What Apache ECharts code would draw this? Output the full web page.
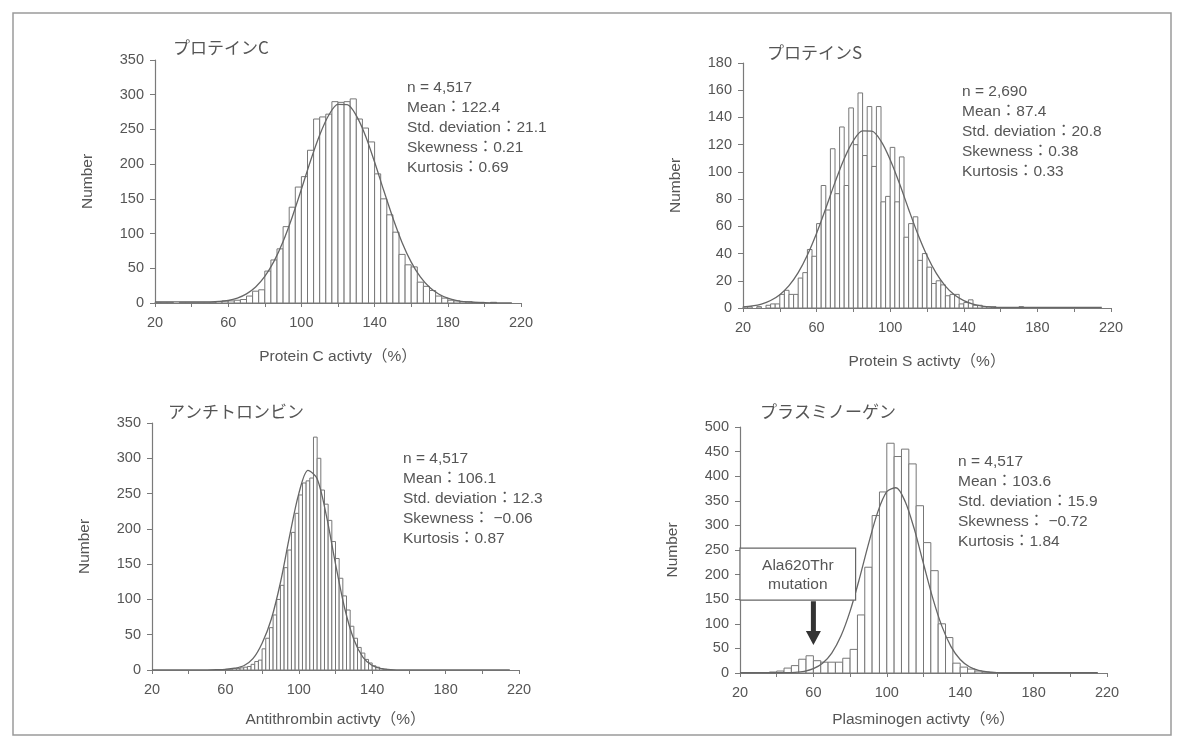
<!DOCTYPE html>
<html><head><meta charset="utf-8">
<script src="https://cdn.jsdelivr.net/npm/echarts@6/dist/echarts.min.js"></script>
<style>html,body{margin:0;padding:0;background:#fff}#c{width:1183px;height:756px}</style>
</head><body><div id="c"></div>
<script>
// ---------- data ----------
const xTickLabels = [20, 60, 100, 140, 180, 220];
const titles = ['プロテインC', 'プロテインS', 'アンチトロンビン', 'プラスミノーゲン'];
const xNames = ['Protein C activty（%）', 'Protein S activty（%）', 'Antithrombin activty（%）', 'Plasminogen activty（%）'];
const yMax = [350, 180, 350, 500];
const yStep = [50, 20, 50, 50];

// Protein C histogram
const pcBinStart = 20, pcBinWidth = 10 / 3;
const pcCounts = [1,1,1,0,1,1,1,1,1,1, 2,3,3,4,5,10,17,19,46,62, 78,110,138,167,182,220,265,268,272,290,
  289,290,294,265,252,232,186,150,127,102, 70,55,52,30,24,18,10,7,4,3, 2,2,1,1,0,1,0,0,0,0];
// Protein S histogram
const psBinStart = 20, psBinWidth = 2.5;
const psCounts = [1,1,0,1,0,2,3,3,10,13, 10,10,22,26,43,38,62,90,72,117, 84,133,90,147,120,158,112,148,104,148,
  78,82,118,78,111,52,62,67,35,40, 30,18,20,17,9,10,10,3,4,6, 2,2,1,1,1,0,0,0,0,0, 1];
// Antithrombin histogram
const atBinStart = 60, atBinWidth = 2;
const atCounts = [1,1,2,2,3,4,5,8,12,14, 30,45,60,78,100,120,145,170,195,222, 248,265,268,272,330,300,255,235,212,182,
  158,130,105,85,62,45,32,24,15,10, 6,4,2,1];
// Plasminogen histogram
const plgBinStart = 20, plgBinWidth = 4;
const plgCounts = [0,1,0,1,2,4,10,15,28,35, 25,22,22,22,30,48,118,215,320,368, 467,440,455,425,340,265,208,100,72,20,
  12,8,4,2,1];

// fitted curves (read at x = 20, 25, ... 215)
const curveX = [20,25,30,35,40,45,50,55,60,65,70,75,80,85,90,95,100,105,110,115,120,125,130,135,140,145,150,155,160,165,170,175,180,185,190,195,200,205,210,215];
const pcCurve = [1.5,1.5,1.5,1.5,1.5,1.5,1.6,2.2,3.6,7.1,13.2,23.1,38.3,59.9,88.6,123.9,163.8,205,242,270.8,
  286,285.8,269.9,241,203,162,122.5,87.3,58.9,37.5,22.6,12.9,6.9,3.5,1.7,1,0.5,0.3,0.2,0.1];
const psCurve = [0.7,1.5,2.9,5.5,9.8,16.4,26,39,55,73.3,92.3,109.7,123,130.1,130,122.6,109,91.6,72.6,54.3,
  38.4,25.6,16.1,9.5,5.4,2.8,1.4,0.7,0.5,0.4,0.4,0.4,0.4,0.4,0.4,0.4,0.4,0.4,0.4,0.4];
const atCurve = [0.3,0.3,0.3,0.3,0.3,0.3,0.3,0.5,1,2.5,6,16,38,72,124,190,250,283,271,219,
  150.5,87.5,43.2,18,6.4,1.9,0.5,0.3,0.3,0.3,0.3,0.3,0.3,0.3,0.3,0.3,0.3,0.3,0.3,0.3];
const plgCurve = [0.5,0.5,0.5,0.5,0.5,0.6,1.3,3.5,8.8,19.8,40.5,75,125.7,190.7,262,326.5,368.5,376.5,348.6,292.3,
  222,152.7,95.3,53.7,27.5,12.7,5.3,2,0.8,0.5,0.5,0.5,0.5,0.5,0.5,0.5,0.5,0.5,0.5,0.5];

const stats = [
  ['n = 4,517', 'Mean：122.4', 'Std. deviation：21.1', 'Skewness：0.21', 'Kurtosis：0.69'],
  ['n = 2,690', 'Mean：87.4', 'Std. deviation：20.8', 'Skewness：0.38', 'Kurtosis：0.33'],
  ['n = 4,517', 'Mean：106.1', 'Std. deviation：12.3', 'Skewness： −0.06', 'Kurtosis：0.87'],
  ['n = 4,517', 'Mean：103.6', 'Std. deviation：15.9', 'Skewness： −0.72', 'Kurtosis：1.84']
];
const annotationText = ['Ala620Thr', 'mutation'];
const annotationX = 60;

// ---------- layout ----------
const grids = [
  {left: 155, top: 60, width: 366, height: 243},
  {left: 743, top: 63, width: 368, height: 245},
  {left: 152, top: 423, width: 367, height: 247},
  {left: 740, top: 427, width: 367, height: 246}
];
const xNameGap = [46, 46, 42, 39];
const statPos = [[407, 88], [962, 92], [403, 459], [958, 462]];
const titlePos = [[173, 48], [767, 53], [168, 412], [760, 412]];

const INK = '#555';
const AXIS = '#7a7a7a';
const FONT = '"Liberation Sans", Arial, "Noto Sans CJK JP", sans-serif';

function binsToData(start, width, counts) {
  const out = [];
  counts.forEach((c, i) => { if (c > 0) out.push([start + i * width, start + (i + 1) * width, c]); });
  return out;
}
const histData = [
  binsToData(pcBinStart, pcBinWidth, pcCounts),
  binsToData(psBinStart, psBinWidth, psCounts),
  binsToData(atBinStart, atBinWidth, atCounts),
  binsToData(plgBinStart, plgBinWidth, plgCounts)
];
const curves = [pcCurve, psCurve, atCurve, plgCurve].map(ys => curveX.map((x, i) => [x, ys[i]]));

const option = {
  backgroundColor: '#fff',
  animation: false,
  grid: grids,
  xAxis: grids.map((g, i) => ({
    type: 'value', gridIndex: i, min: 20, max: 220, interval: 20,
    name: xNames[i], nameLocation: 'middle', nameGap: xNameGap[i],
    nameTextStyle: {color: INK, fontSize: 15.5, fontFamily: FONT},
    axisLine: {show: true, onZero: false, lineStyle: {color: AXIS, width: 1.2}},
    axisTick: {show: true, length: 4, lineStyle: {color: AXIS}},
    splitLine: {show: false},
    axisLabel: {color: INK, fontSize: 14.5, fontFamily: FONT, margin: 13,
      formatter: v => xTickLabels.indexOf(v) >= 0 ? String(v) : ''}
  })),
  yAxis: grids.map((g, i) => ({
    type: 'value', gridIndex: i, min: 0, max: yMax[i], interval: yStep[i],
    name: 'Number', nameLocation: 'middle', nameGap: 60, nameRotate: 90,
    nameTextStyle: {color: INK, fontSize: 15.5, fontFamily: FONT},
    axisLine: {show: true, lineStyle: {color: AXIS, width: 1.2}},
    axisTick: {show: true, length: 5, lineStyle: {color: AXIS}},
    splitLine: {show: false},
    axisLabel: {color: INK, fontSize: 14.5, fontFamily: FONT, margin: 11}
  })),
  series: []
};

histData.forEach((d, i) => {
  option.series.push({
    type: 'custom', xAxisIndex: i, yAxisIndex: i, data: d, encode: {x: [0, 1], y: 2},
    renderItem: function (params, api) {
      const p0 = api.coord([api.value(0), 0]);
      const p1 = api.coord([api.value(1), api.value(2)]);
      return {type: 'rect', shape: {x: p0[0], y: p1[1], width: p1[0] - p0[0], height: p0[1] - p1[1]},
        style: {fill: '#fff', stroke: '#777', lineWidth: 1}};
    },
    z: 2
  });
  option.series.push({
    type: 'line', xAxisIndex: i, yAxisIndex: i, data: curves[i], smooth: 0.3,
    showSymbol: false, symbol: 'none', lineStyle: {color: '#666', width: 1.3}, z: 3
  });
});

const chart = echarts.init(document.getElementById('c'), null, {renderer: 'canvas'});
chart.setOption(option);

// ---------- graphics: frame, titles, stats, annotation ----------
const g = [];
g.push({type: 'rect', shape: {x: 13, y: 13, width: 1158, height: 722}, style: {fill: 'none', stroke: '#9a9a9a', lineWidth: 1.5}, z: 0});
titles.forEach((t, i) => {
  g.push({type: 'text', x: titlePos[i][0], y: titlePos[i][1],
    style: {text: t, fill: INK, font: '17px "Noto Sans CJK JP", sans-serif', textVerticalAlign: 'middle'}, z: 10});
});
stats.forEach((lines, i) => {
  lines.forEach((s, k) => {
    g.push({type: 'text', x: statPos[i][0], y: statPos[i][1] + k * 20,
      style: {text: s, fill: INK, font: '15.5px ' + FONT, textVerticalAlign: 'middle'}, z: 10});
  });
});
// annotation box & arrow in plasminogen panel (positioned through the axes)
const boxTL = chart.convertToPixel({gridIndex: 3}, [20, 254]);
const boxBR = chart.convertToPixel({gridIndex: 3}, [83, 148]);
g.push({type: 'rect', shape: {x: boxTL[0], y: boxTL[1], width: boxBR[0] - boxTL[0], height: boxBR[1] - boxTL[1]},
  style: {fill: '#fff', stroke: '#666', lineWidth: 1.2}, z: 20});
const cx = (boxTL[0] + boxBR[0]) / 2;
annotationText.forEach((t, k) => {
  g.push({type: 'text', x: cx, y: boxTL[1] + 18 + k * 19,
    style: {text: t, fill: INK, font: '15.5px ' + FONT, textAlign: 'center', textVerticalAlign: 'middle'}, z: 21});
});
const arTop = chart.convertToPixel({gridIndex: 3}, [annotationX, 146]);
const arTip = chart.convertToPixel({gridIndex: 3}, [annotationX, 57]);
const ax = arTop[0];
const headH = 14, shaftW = 5, headW = 15;
g.push({type: 'polygon', shape: {points: [
  [ax - shaftW / 2, arTop[1]], [ax + shaftW / 2, arTop[1]], [ax + shaftW / 2, arTip[1] - headH],
  [ax + headW / 2, arTip[1] - headH], [ax, arTip[1]], [ax - headW / 2, arTip[1] - headH],
  [ax - shaftW / 2, arTip[1] - headH]]}, style: {fill: '#333'}, z: 21});
chart.setOption({graphic: g});
</script>
</body></html>
